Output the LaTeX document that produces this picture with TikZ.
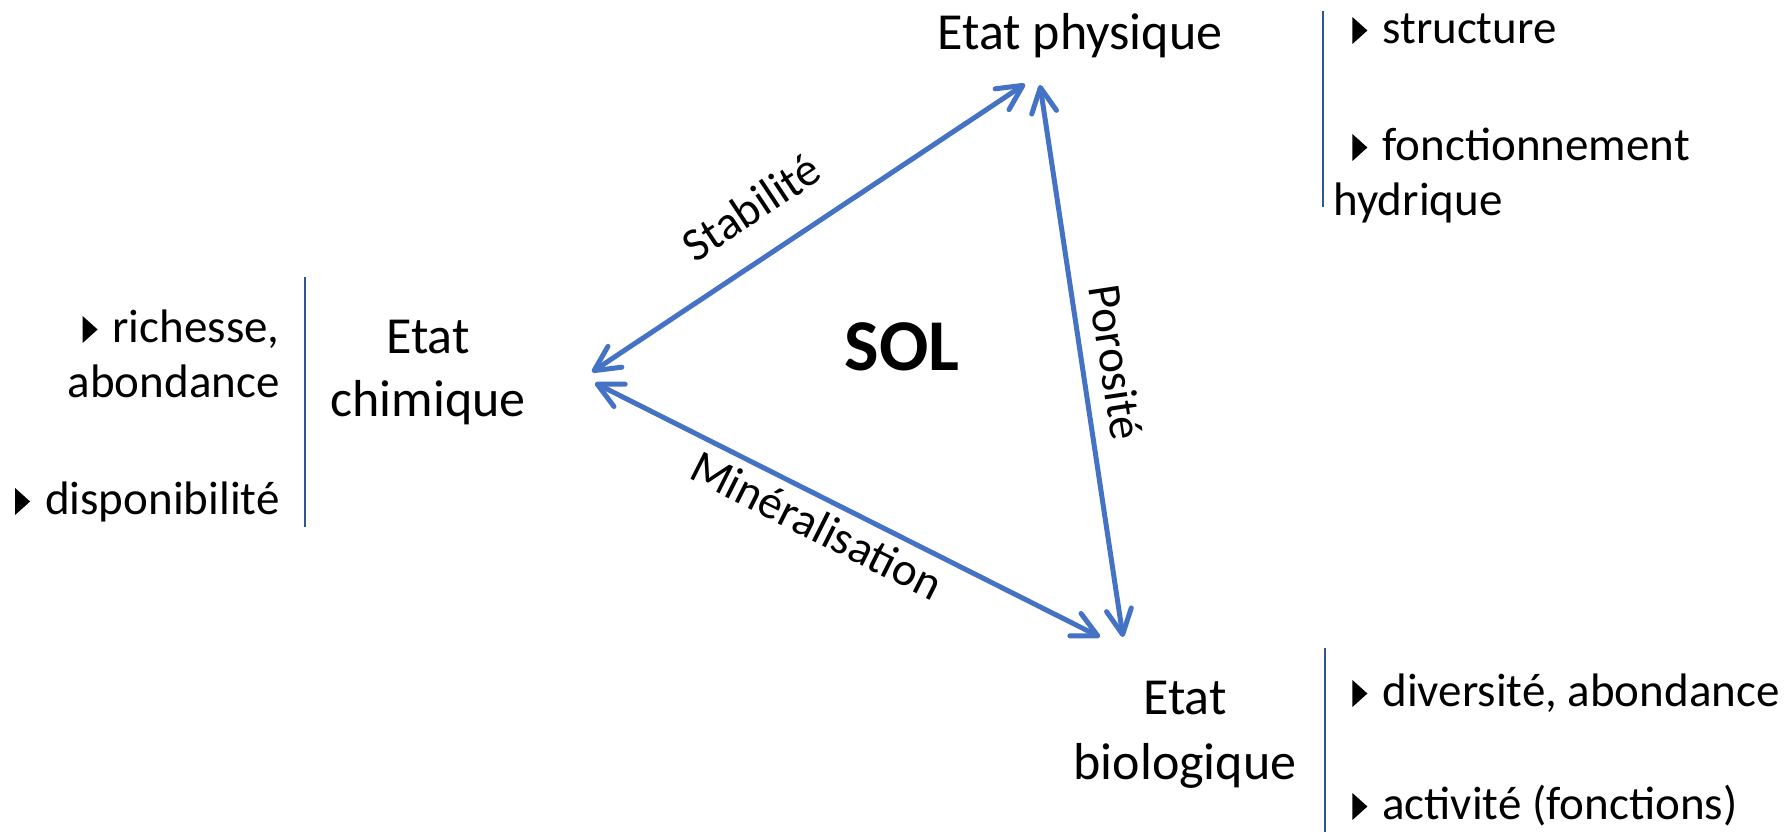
\documentclass[tikz,border=0pt]{standalone}
\usepackage{fontspec}
\setmainfont{Carlito}
\usetikzlibrary{arrows.meta}
\definecolor{arrowblue}{RGB}{68,114,196}
\definecolor{lineblue}{RGB}{47,85,151}
\newcommand{\tri}{\tikz[baseline=0pt,x=1bp,y=1bp]\fill (0,-0.5)--(0,13)--(7.5,6.25)--cycle;}
\begin{document}
\begin{tikzpicture}[x=0.5bp,y=-0.5bp,
  state/.style={inner sep=0pt, align=center, font=\fontsize{26bp}{31.5bp}\selectfont},
  item/.style={inner sep=0pt, font=\fontsize{23.5bp}{27.5bp}\selectfont},
  rel/.style={inner sep=0pt, font=\fontsize{23.5bp}{28bp}\selectfont},
  link/.style={draw=arrowblue, line width=2.5bp,
    arrows={Straight Barb[length=12.5bp,width=12.5bp,line cap=round,line join=round]-Straight Barb[length=12.5bp,width=12.5bp,line cap=round,line join=round]}},
  sepline/.style={draw=lineblue, line width=1bp}]
\useasboundingbox (0,0) rectangle (1792,832);

% states
\node[state, anchor=base] (phys) at (1080,49) {Etat physique};
\node[state, anchor=base] (chim) at (428,416) {Etat\\chimique};
\node[state, anchor=base, font=\fontsize{26bp}{32.5bp}\selectfont] (bio) at (1185,779) {Etat\\biologique};
\node[inner sep=0pt, font=\bfseries\fontsize{36.5bp}{40bp}\selectfont] (sol) at (902,347) {SOL};

% arrow end points
\coordinate (cS) at (592,372);
\coordinate (pS) at (1025,84);
\coordinate (pP) at (1040,85);
\coordinate (bP) at (1123,637);
\coordinate (cM) at (595,383);
\coordinate (bM) at (1100,637);

\draw[link] (cS) -- (pS);
\draw[link] (pP) -- (bP);
\draw[link] (cM) -- (bM);

% relation labels
\node[rel, rotate=33.6] (stab) at (751,207) {Stabilité};
\node[rel, rotate=-81.4] (poro) at (1116,362) {Porosité};
\node[rel, rotate=-26.7] (mine) at (817,525) {Minéralisation};

% separator lines
\coordinate (lt) at (305,277);
\coordinate (lb) at (305,527);
\coordinate (rt) at (1323,11);
\coordinate (rb) at (1323,207);
\coordinate (bt) at (1325,648);
\coordinate (bb) at (1325,832);
\draw[sepline] (lt) -- (lb);
\draw[sepline] (rt) -- (rb);
\draw[sepline] (bt) -- (bb);

% lists
\node[item, anchor=base east, align=right] (rich) at (280,397) {\tri\hspace{7.5bp}richesse,\\abondance};
\node[item, anchor=base east] (dispo) at (280,514) {\tri\hspace{7.5bp}disponibilité};
\node[item, anchor=base west] (struc) at (1352,43) {\tri\hspace{7.5bp}structure};
\node[item, anchor=base west, align=left] (fonct) at (1333,215) {\hspace{9.5bp}\tri\hspace{7.5bp}fonctionnement\\hydrique};
\node[item, anchor=base west] (div) at (1352,706) {\tri\hspace{7.5bp}diversité, abondance};
\node[item, anchor=base west] (act) at (1352,819) {\tri\hspace{7.5bp}activité (fonctions)};
\end{tikzpicture}
\end{document}
